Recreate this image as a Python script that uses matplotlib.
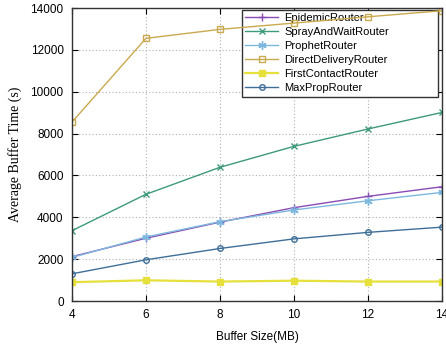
import matplotlib
matplotlib.use("Agg")
import matplotlib.pyplot as plt

plt.rcParams['font.family'] = ['Liberation Sans', 'DejaVu Sans']

buffer_sizes = [4, 6, 8, 10, 12, 14]

epidemic = [2120, 3000, 3770, 4460, 5000, 5460]
spray_and_wait = [3360, 5100, 6390, 7390, 8220, 9010]
prophet = [2080, 3060, 3790, 4350, 4790, 5190]
direct_delivery = [8550, 12550, 12980, 13280, 13580, 13870]
first_contact = [900, 990, 930, 970, 930, 930]
max_prop = [1300, 1970, 2510, 2970, 3280, 3530]

series = [
    ("EpidemicRouter", epidemic, "#8b4bb5", dict(marker="+", ms=6)),
    ("SprayAndWaitRouter", spray_and_wait, "#3e9a7c", dict(marker="x", ms=4.5)),
    ("ProphetRouter", prophet, "#7cb8de", dict(marker=(6, 2, 0), ms=6)),
    ("DirectDeliveryRouter", direct_delivery, "#c9a94e",
     dict(marker="s", ms=5, mfc="none")),
    ("FirstContactRouter", first_contact, "#e6e03c",
     dict(marker="s", ms=5, lw=1.6)),
    ("MaxPropRouter", max_prop, "#3f6f99", dict(marker="o", ms=4, mfc="none")),
]

fig = plt.figure(figsize=(4.46, 3.48), dpi=100)
ax = fig.add_axes([0.1614, 0.135, 0.8296, 0.842])
ax.set_axisbelow(True)

for name, vals, color, style in series:
    kw = dict(lw=1.0, mew=1.0)
    kw.update(style)
    ax.plot(buffer_sizes, vals, color=color, mec=color, label=name,
            zorder=2, **kw)

ax.set_xlim(4, 14)
ax.set_ylim(0, 14000)
ax.set_xticks(buffer_sizes)
ax.set_yticks(range(0, 14001, 2000))
ax.grid(True, color="#b0b0b0", linestyle=(0, (1, 2)), lw=0.8)
ax.tick_params(direction="in", top=True, right=True, length=4,
               labelsize=8.5, width=0.8)
ax.tick_params(axis="x", pad=6)
ax.tick_params(axis="y", pad=6)
for s in ax.spines.values():
    s.set_linewidth(1.0)
    s.set_color("#333333")
    s.set_zorder(3)

ax.set_xlabel("Buffer Size(MB)", fontsize=8.5, labelpad=7)
ax.set_ylabel("Average Buffer Time (s)", fontsize=10,
              family="Liberation Serif", labelpad=6)

# legend box stretched over the upper right, lines drawn on top of it
leg = ax.legend(loc="upper left", bbox_to_anchor=(0.4586, 0.7065, 0.5294, 0.2865),
                mode="expand", fontsize=8, frameon=True, fancybox=False,
                handlelength=3.0, labelspacing=0.36, borderpad=0.3,
                handletextpad=0.55, borderaxespad=0)
leg.get_frame().set_edgecolor("#333333")
leg.get_frame().set_linewidth(1.0)
leg.get_frame().set_alpha(1.0)
leg.set_zorder(1.5)

fig.savefig("out.png", dpi=100)
